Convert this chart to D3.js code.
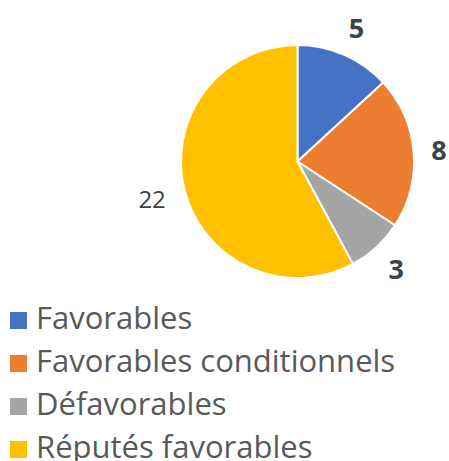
<!DOCTYPE html>
<html lang="fr">
    <head>
        <meta charset="utf-8">
        <title>D3</title>
        <script type="text/javascript" src="https://cdnjs.cloudflare.com/ajax/libs/d3/7.8.5/d3.min.js"></script>
        <style type="text/css">
            body { margin: 0; background: #fff; }
        </style>
    </head>
    <body>
        <script type="text/javascript">
            var w = 449;
            var h = 461;

            var categories = ["Favorables", "Favorables conditionnels", "Défavorables", "Réputés favorables"];
            var values = [5, 8, 3, 22];
            var colors = ["#4472C4", "#ED7D31", "#A5A5A5", "#FFC000"];
            var boldLabel = [true, true, true, false];

            var cx = 297.5, cy = 161.5, r = 116.5;

            var svg = d3.select("body")
                        .append("svg")
                        .attr("width", w)
                        .attr("height", h);

            var pie = d3.pie().sort(null).value(function (d) { return d; });
            var arcs = pie(values);
            var arc = d3.arc().innerRadius(0).outerRadius(r);

            var g = svg.append("g")
                       .attr("transform", "translate(" + cx + "," + cy + ")");

            g.selectAll("path")
              .data(arcs)
              .enter()
              .append("path")
              .attr("d", arc)
              .attr("fill", function (d, i) { return colors[i]; })
              .attr("stroke", "#fff")
              .attr("stroke-width", 2)
              .attr("stroke-linejoin", "round");

            // outside-end labels: put the label box just outside the rim
            var gap = 18;
            function labelPos(d, i) {
                var a = (d.startAngle + d.endAngle) / 2;
                var s = Math.sin(a), c = -Math.cos(a);
                var hw = String(d.data).length * 7.5, hh = 11;
                var k = Math.min(Math.abs(s) > 0.01 ? hw / Math.abs(s) : 999,
                                 Math.abs(c) > 0.01 ? hh / Math.abs(c) : 999);
                var dist = r + gap + k;
                return [s * dist, c * dist];
            }

            g.selectAll("text")
              .data(arcs)
              .enter()
              .append("text")
              .text(function (d) { return d.data; })
              .attr("transform", function (d, i) { return "translate(" + labelPos(d, i) + ")"; })
              .attr("text-anchor", "middle")
              .attr("dominant-baseline", "central")
              .attr("font-family", "'Open Sans', sans-serif")
              .attr("font-size", function (d, i) { return boldLabel[i] ? "27px" : "24px"; })
              .attr("font-weight", function (d, i) { return boldLabel[i] ? "bold" : "normal"; })
              .attr("fill", function (d, i) { return boldLabel[i] ? "#3B4546" : "#404040"; });

            // legend
            var legY = d3.scaleBand().domain(categories).range([307, 307 + 4 * 43]);

            var leg = svg.selectAll("g.leg")
                         .data(categories)
                         .enter()
                         .append("g")
                         .attr("class", "leg")
                         .attr("transform", function (d) { return "translate(0," + legY(d) + ")"; });

            leg.append("rect")
               .attr("x", 10)
               .attr("y", 5)
               .attr("width", 17)
               .attr("height", 17)
               .attr("fill", function (d, i) { return colors[i]; });

            leg.append("text")
               .text(function (d) { return d; })
               .attr("x", 36)
               .attr("y", 22)
               .attr("font-family", "'Open Sans', sans-serif")
               .attr("font-size", "31px")
               .attr("fill", "#595959");
        </script>
    </body>
</html>
